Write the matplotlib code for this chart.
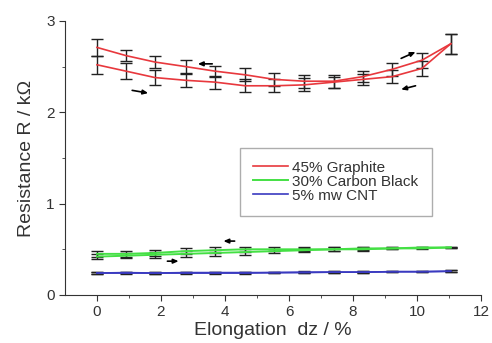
import numpy as np
import matplotlib
matplotlib.use("Agg")
import matplotlib.pyplot as plt

plt.rcParams["font.family"] = ["Liberation Sans", "DejaVu Sans"]

# elongation steps (%)
elong = [0, 0.91, 1.81, 2.77, 3.69, 4.63, 5.54, 6.47, 7.4, 8.3, 9.22, 10.15, 11.05]

# 45% graphite: loading (up) and unloading (down)
graphite_up = [2.52, 2.45, 2.38, 2.35, 2.33, 2.29, 2.29, 2.30, 2.33, 2.36, 2.39, 2.48, 2.75]
graphite_down = [2.71, 2.62, 2.55, 2.50, 2.45, 2.41, 2.36, 2.34, 2.34, 2.39, 2.47, 2.57, 2.75]
graphite_up_err = [0.10, 0.09, 0.08, 0.07, 0.07, 0.07, 0.07, 0.07, 0.06, 0.06, 0.07, 0.08, 0.11]
graphite_down_err = [0.09, 0.06, 0.07, 0.07, 0.06, 0.07, 0.07, 0.07, 0.07, 0.06, 0.07, 0.08, 0.11]

# 30% carbon black
cb_up = [0.42, 0.43, 0.44, 0.45, 0.46, 0.47, 0.48, 0.49, 0.50, 0.50, 0.51, 0.51, 0.52]
cb_down = [0.45, 0.45, 0.46, 0.48, 0.49, 0.50, 0.50, 0.50, 0.50, 0.51, 0.51, 0.52, 0.52]
cb_err = [0.03, 0.03, 0.03, 0.03, 0.03, 0.03, 0.02, 0.02, 0.02, 0.02, 0.01, 0.01, 0.01]

# 5% mw CNT
cnt_up = [0.24, 0.24, 0.24, 0.24, 0.24, 0.24, 0.245, 0.245, 0.25, 0.25, 0.255, 0.255, 0.26]
cnt_down = [0.24, 0.245, 0.24, 0.245, 0.245, 0.245, 0.245, 0.25, 0.25, 0.25, 0.255, 0.255, 0.26]
cnt_err = [0.008] * 13

fig = plt.figure(figsize=(4.92, 3.43), dpi=100)
ax = fig.add_axes([0.132, 0.14, 0.846, 0.799])

eb = dict(fmt="none", ecolor="#222222", elinewidth=1.0, capsize=4.5, capthick=1.0)

red = "#e8383d"
green = "#44e044"
blue = "#3a3ac0"

ax.errorbar(elong, graphite_up, yerr=graphite_up_err, **eb)
ax.errorbar(elong, graphite_down, yerr=graphite_down_err, **eb)
ax.plot(elong, graphite_up, color=red, lw=1.2, label="45% Graphite")
ax.plot(elong, graphite_down, color=red, lw=1.2)

ax.errorbar(elong, cb_up, yerr=cb_err, **eb)
ax.errorbar(elong, cb_down, yerr=cb_err, **eb)
ax.plot(elong, cb_up, color=green, lw=1.4, label="30% Carbon Black")
ax.plot(elong, cb_down, color=green, lw=1.4)

ax.errorbar(elong, cnt_up, yerr=cnt_err, **eb)
ax.errorbar(elong, cnt_down, yerr=cnt_err, **eb)
ax.plot(elong, cnt_up, color=blue, lw=1.2, label="5% mw CNT")
ax.plot(elong, cnt_down, color=blue, lw=1.2)

# direction arrows
arrows = [
    ((1.1, 2.24), (1.6, 2.21)),
    ((3.6, 2.53), (3.15, 2.53)),
    ((9.5, 2.59), (9.95, 2.66)),
    ((9.95, 2.29), (9.5, 2.25)),
    ((2.2, 0.37), (2.55, 0.37)),
    ((4.3, 0.59), (3.95, 0.59)),
]
for tail, head in arrows:
    ax.annotate("", xy=head, xytext=tail,
                arrowprops=dict(arrowstyle="-|>,head_length=0.3,head_width=0.13",
                                color="black", lw=1.2, shrinkA=0, shrinkB=0))

ax.set_xlim(-1, 12)
ax.set_ylim(0, 3)
ax.set_xticks([0, 2, 4, 6, 8, 10, 12])
ax.set_xticks(np.arange(1, 12, 2), minor=True)
ax.set_yticks([0, 1, 2, 3])
ax.set_yticks([0.5, 1.5, 2.5], minor=True)
ax.spines["top"].set_visible(False)
ax.spines["right"].set_visible(False)
for s in ("left", "bottom"):
    ax.spines[s].set_color("#333333")
ax.tick_params(which="major", direction="out", length=4, labelsize=11, colors="#333333")
ax.tick_params(which="minor", direction="out", length=2.5, colors="#333333")

ax.set_xlabel("Elongation  dz / %", fontsize=14, color="#333333", labelpad=2)
ax.set_ylabel("Resistance R / k\u03a9", fontsize=14, color="#333333", labelpad=8)

leg = ax.legend(loc="upper left", bbox_to_anchor=(0.42, 0.537), fontsize=11,
                frameon=True, fancybox=False, handlelength=2.3, handletextpad=0.3,
                borderpad=0.85, labelspacing=0.0, borderaxespad=0)
leg.get_frame().set_edgecolor("#999999")
leg.get_frame().set_linewidth(1.0)
for t in leg.get_texts():
    t.set_color("#333333")

fig.savefig("out.png", dpi=100)
